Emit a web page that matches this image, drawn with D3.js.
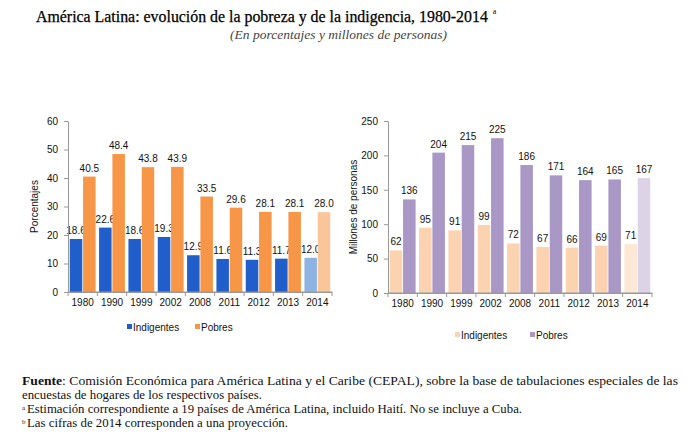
<!DOCTYPE html>
<html><head><meta charset="utf-8">
<script src="https://cdn.jsdelivr.net/npm/d3@7"></script>
<style>body{margin:0;background:#fff}svg{display:block}</style>
</head><body>
<script>
const years = ["1980","1990","1999","2002","2008","2011","2012","2013","2014"];
const pctIndigentes = [18.6,22.6,18.6,19.3,12.9,11.6,11.3,11.7,12.0];
const pctPobres = [40.5,48.4,43.8,43.9,33.5,29.6,28.1,28.1,28.0];
const milIndigentes = [62,95,91,99,72,67,66,69,71];
const milPobres = [136,204,215,225,186,171,164,165,167];
const pctTicks = [0,10,20,30,40,50,60];
const milTicks = [0,50,100,150,200,250];
const seriesNames = ["Indigentes","Pobres"];

const W=700,H=434;
const svg=d3.select("body").append("svg").attr("width",W).attr("height",H);
const serif="'Liberation Serif','DejaVu Serif',serif";
const sans="'Liberation Sans',Arial,sans-serif";

const title=svg.append("text").attr("x",36).attr("y",22).attr("font-family",serif).attr("font-size",18)
  .attr("fill","#000").attr("stroke","#000").attr("stroke-width",0.25)
  .text("América Latina: evolución de la pobreza y de la indigencia, 1980-2014");
let tw=title.node().getComputedTextLength();
title.attr("font-size",18*452/tw);
tw=title.node().getComputedTextLength();
svg.append("text").attr("x",36+tw+5).attr("y",14).attr("font-family",serif).attr("font-size",8).text("a");
svg.append("text").attr("x",230).attr("y",39).attr("font-family",serif)
  .attr("font-style","italic").attr("font-size",13).attr("fill","#444")
  .attr("textLength",217).attr("lengthAdjust","spacingAndGlyphs")
  .text("(En porcentajes y millones de personas)");

function chart(cfg){
  const g=svg.append("g");
  const x0=d3.scaleBand().domain(years).range([cfg.x0,cfg.x1]).paddingInner(0.12).paddingOuter(0.06);
  const x1=d3.scaleBand().domain(seriesNames).range([0,x0.bandwidth()]).paddingInner(0.06);
  const y=d3.scaleLinear().domain([0,cfg.max]).range([cfg.y0,cfg.y1]);
  const data=[cfg.a,cfg.b];
  seriesNames.forEach((s,si)=>{
    const vals=data[si];
    g.selectAll(null).data(years).enter().append("rect")
      .attr("x",d=>x0(d)+x1(s)).attr("width",x1.bandwidth())
      .attr("y",(d,i)=>y(vals[i])).attr("height",(d,i)=>cfg.y0-y(vals[i]))
      .attr("fill",(d,i)=>i===years.length-1?cfg.light[si]:cfg.colors[si]);
    g.selectAll(null).data(years).enter().append("text")
      .attr("x",d=>x0(d)+x1(s)+x1.bandwidth()/2).attr("y",(d,i)=>y(vals[i])-5)
      .attr("text-anchor","middle").attr("font-family",sans).attr("font-size",10).attr("fill","#111")
      .text((d,i)=>cfg.fmt(vals[i]));
  });
  const ya=g.append("g").attr("transform",`translate(${cfg.x0},0)`)
    .call(d3.axisLeft(y).tickValues(cfg.ticks).tickSize(4).tickSizeOuter(0).tickPadding(6));
  ya.select(".domain").attr("stroke","#999");
  ya.selectAll(".tick line").attr("stroke","#999");
  ya.selectAll("text").attr("font-family",sans).attr("font-size",10).attr("fill","#111");
  const xa=g.append("g").attr("transform",`translate(0,${cfg.y0})`)
    .call(d3.axisBottom(x0).tickSize(0).tickPadding(7));
  xa.select(".domain").attr("stroke","#999");
  xa.selectAll("text").attr("font-family",sans).attr("font-size",10).attr("fill","#111");
  g.selectAll(null).data(d3.range(years.length+1)).enter().append("line")
    .attr("x1",i=>cfg.x0+i*(cfg.x1-cfg.x0)/years.length).attr("x2",i=>cfg.x0+i*(cfg.x1-cfg.x0)/years.length)
    .attr("y1",cfg.y0).attr("y2",cfg.y0+4).attr("stroke","#999");
  g.append("line").attr("x1",cfg.x0).attr("x2",cfg.x1).attr("y1",cfg.y0).attr("y2",cfg.y0).attr("stroke","#999");
  g.append("text").attr("transform",`translate(${cfg.labX},${(cfg.y0+cfg.y1)/2}) rotate(-90)`)
    .attr("text-anchor","middle").attr("font-family",sans).attr("font-size",10).attr("fill","#111").text(cfg.label);
  seriesNames.forEach((s,si)=>{
    g.append("rect").attr("x",cfg.leg[si]).attr("y",cfg.legY-3).attr("width",5).attr("height",5).attr("fill",cfg.colors[si]);
    g.append("text").attr("x",cfg.leg[si]+6).attr("y",cfg.legY+3.5).attr("font-family",sans).attr("font-size",10).attr("fill","#111").text(s);
  });
}

chart({x0:68,x1:332,y0:292,y1:121,max:60,ticks:pctTicks,a:pctIndigentes,b:pctPobres,
  colors:["#1F5ECB","#F79646"],light:["#8DB3E2","#FBC59A"],fmt:d3.format(".1f"),
  label:"Porcentajes",labX:38,leg:[127,195],legY:327});
chart({x0:388,x1:652,y0:293,y1:121,max:250,ticks:milTicks,a:milIndigentes,b:milPobres,
  colors:["#FBD3B0","#A997C5"],light:["#FDE7D5","#DCD3E7"],fmt:d3.format("d"),
  label:"Millones de personas",labX:357,leg:[455,530],legY:335});

const foot=svg.append("g").attr("font-family",serif).attr("font-size",12).attr("fill","#111");
const f1=foot.append("text").attr("x",22).attr("y",385).attr("textLength",656).attr("lengthAdjust","spacingAndGlyphs");
f1.append("tspan").attr("font-weight","bold").text("Fuente");
f1.append("tspan").text(": Comisión Económica para América Latina y el Caribe (CEPAL), sobre la base de tabulaciones especiales de las");
foot.append("text").attr("x",22).attr("y",399).attr("textLength",240).attr("lengthAdjust","spacingAndGlyphs")
  .text("encuestas de hogares de los respectivos países.");
foot.append("text").attr("x",22).attr("y",410).attr("font-size",7).text("a");
foot.append("text").attr("x",27).attr("y",413).attr("textLength",495).attr("lengthAdjust","spacingAndGlyphs")
  .text("Estimación correspondiente a 19 países de América Latina, incluido Haití. No se incluye a Cuba.");
foot.append("text").attr("x",22).attr("y",424).attr("font-size",7).text("b");
foot.append("text").attr("x",27).attr("y",427).attr("textLength",261).attr("lengthAdjust","spacingAndGlyphs")
  .text("Las cifras de 2014 corresponden a una proyección.");
</script>
</body></html>
